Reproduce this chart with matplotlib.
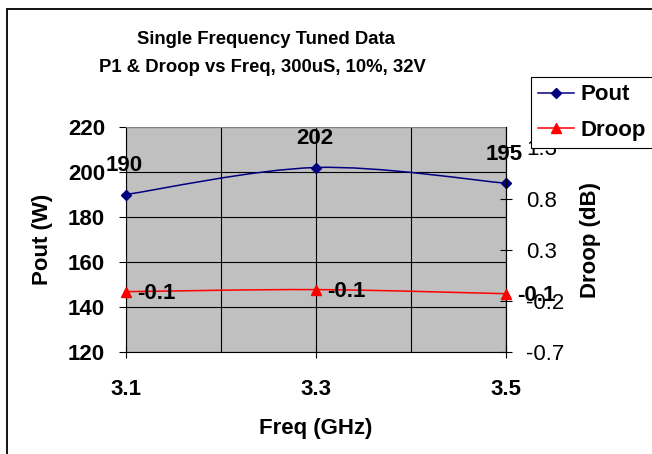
#!/usr/bin/env python3
"""Single frequency tuned data: Pout and droop vs frequency (Excel-style chart)."""

import matplotlib
matplotlib.use("Agg")
import matplotlib.pyplot as plt
from matplotlib.path import Path
from matplotlib.patches import PathPatch, Rectangle
from matplotlib.lines import Line2D

# ── Data ────────────────────────────────────────────────────────────

freq_ghz = [3.1, 3.3, 3.5]
pout_w = [190, 202, 195]
droop_db = [-0.11, -0.09, -0.13]
pout_labels = ["190", "202", "195"]
droop_labels = ["-0.1", "-0.1", "-0.1"]

POUT_COLOR = "#000080"
DROOP_COLOR = "#ff0000"
PLOT_BG = "#c0c0c0"

plt.rcParams["font.family"] = ["Liberation Sans", "DejaVu Sans"]


def smooth_path(xs, ys, k=1 / 6):
    """Excel-like smoothed line: cubic Bezier through every point."""
    pts = list(zip(xs, ys))
    verts = [pts[0]]
    codes = [Path.MOVETO]
    n = len(pts)
    for i in range(n - 1):
        p0 = pts[max(i - 1, 0)]
        p1 = pts[i]
        p2 = pts[i + 1]
        p3 = pts[min(i + 2, n - 1)]
        c1 = (p1[0] + (p2[0] - p0[0]) * k, p1[1] + (p2[1] - p0[1]) * k)
        c2 = (p2[0] - (p3[0] - p1[0]) * k, p2[1] - (p3[1] - p1[1]) * k)
        verts += [c1, c2, p2]
        codes += [Path.CURVE4] * 3
    return Path(verts, codes)


fig = plt.figure(figsize=(6.52, 4.54), dpi=100)
W, H = 652, 454
ax = fig.add_axes([126 / W, 1 - 352 / H, 380 / W, 225 / H])
ax2 = ax.twinx()

# chart-area border (only left/top visible in the crop)
fig.patches.append(Rectangle((7 / W, -0.5), 2.0, 0.5 + 1 - 9 / H,
                             transform=fig.transFigure, fill=False,
                             edgecolor="black", linewidth=1.3))

# ── Title ──
fig.text(266 / W, 1 - 40 / H, "Single Frequency Tuned Data",
         ha="center", va="center", fontsize=13.3, fontweight="bold")
fig.text(262 / W, 1 - 68 / H, "P1 & Droop vs Freq, 300uS, 10%, 32V",
         ha="center", va="center", fontsize=13.3, fontweight="bold")

# ── Primary axis (Pout) ──
ax.set_facecolor(PLOT_BG)
ax.set_xlim(3.1, 3.5)
ax.set_ylim(120, 220)
ax.set_xticks([3.1, 3.3, 3.5])
ax.set_xticks([3.2, 3.4], minor=True)
ax.set_yticks(range(120, 221, 20))
ax.grid(True, which="both", color="black", linewidth=0.8)
ax.set_axisbelow(True)
ax.tick_params(axis="y", direction="out", length=5, width=0.8, pad=10,
               labelsize=16)
ax.tick_params(axis="x", which="major", direction="inout", length=9,
               width=0.8, pad=15, labelsize=16)
ax.tick_params(axis="x", which="minor", length=0)
for lbl in ax.get_xticklabels() + ax.get_yticklabels():
    lbl.set_fontweight("bold")
for side in ("left", "bottom", "right"):
    ax.spines[side].set_color("black")
    ax.spines[side].set_linewidth(0.8)
ax.spines["top"].set_color("#808080")

ax.add_patch(PathPatch(smooth_path(freq_ghz, pout_w), fill=False,
                       edgecolor=POUT_COLOR, linewidth=1.1, zorder=3))
ax.plot(freq_ghz, pout_w, linestyle="none", marker="D", markersize=5.5,
        color=POUT_COLOR, zorder=4, clip_on=False)
for x, y, s in zip(freq_ghz, pout_w, pout_labels):
    ax.annotate(s, (x, y), xytext=(-1, 21), textcoords="offset points",
                ha="center", va="center", fontsize=16, fontweight="bold",
                annotation_clip=False, zorder=5)

ax.set_xlabel("Freq (GHz)", fontsize=16, fontweight="bold")
ax.xaxis.set_label_coords(0.5, -0.293)
ax.set_ylabel("Pout (W)", fontsize=16, fontweight="bold")
ax.yaxis.set_label_coords(-0.192, 0.5)

# ── Secondary axis (Droop) ──
ax2.set_ylim(-0.7, 1.5)
ax2.set_yticks([-0.7, -0.2, 0.3, 0.8, 1.3])
ax2.set_yticklabels(["-0.7", "-0.2", "0.3", "0.8", "1.3"])
ax2.tick_params(axis="y", direction="inout", length=9, width=0.8, pad=10,
                labelsize=16)
for side in ("left", "bottom", "top"):
    ax2.spines[side].set_visible(False)
ax2.spines["right"].set_color("black")
ax2.spines["right"].set_linewidth(0.8)

ax2.add_patch(PathPatch(smooth_path(freq_ghz, droop_db), fill=False,
                        edgecolor=DROOP_COLOR, linewidth=1.1, zorder=3))
ax2.plot(freq_ghz, droop_db, linestyle="none", marker="^", markersize=6.5,
         color=DROOP_COLOR, zorder=4, clip_on=False)
for x, y, s in zip(freq_ghz, droop_db, droop_labels):
    ax2.annotate(s, (x, y), xytext=(22, -1), textcoords="offset points",
                 ha="center", va="center", fontsize=16, fontweight="bold",
                 annotation_clip=False, zorder=5)

ax2.set_ylabel("Droop (dB)", fontsize=16, fontweight="bold")
ax2.yaxis.set_label_coords(1.195, 0.5)

# ── Legend ──
handles = [
    Line2D([], [], color=POUT_COLOR, marker="D", markersize=5.5,
           linewidth=1.1, label="Pout"),
    Line2D([], [], color=DROOP_COLOR, marker="^", markersize=6.5,
           linewidth=1.1, label="Droop"),
]
leg = fig.legend(handles=handles, loc="upper left",
                 bbox_to_anchor=(531 / W, 1 - 77 / H),
                 bbox_transform=fig.transFigure, borderaxespad=0,
                 prop={"size": 16, "weight": "bold"}, frameon=True,
                 fancybox=False, shadow=False, framealpha=1,
                 edgecolor="black", handlelength=1.6, handletextpad=0.3,
                 borderpad=0.33, labelspacing=0.66)
leg.get_frame().set_linewidth(0.8)

fig.savefig("out.png", dpi=100)
